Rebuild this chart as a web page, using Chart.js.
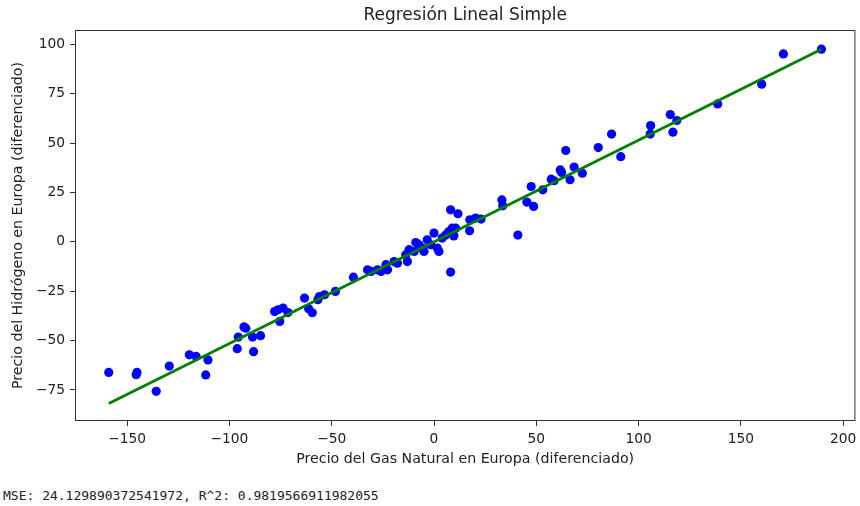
<!DOCTYPE html>
<html>
<head>
<meta charset="utf-8">
<script src="https://cdn.jsdelivr.net/npm/chart.js@4.4.1/dist/chart.umd.min.js"></script>
<style>
  body { margin: 0; background: #fff; }
  #wrap { position: relative; width: 860px; height: 480px; }
  #stats { position: absolute; left: 3px; top: 488px; font: 13px "DejaVu Sans Mono", monospace; line-height: 16px; color: #222; white-space: pre; }
</style>
</head>
<body>
<div id="wrap"><canvas id="chart" width="860" height="480"></canvas></div>
<div id="stats">MSE: 24.129890372541972, R^2: 0.9819566911982055</div>
<script>
// Precio del gas (x) vs precio del hidrógeno (y), diferenciados
const gasX = [-159.0, -145.6, -145.2, -135.8, -129.4, -119.6, -116.3, -111.6, -110.5, -96.2,
    -95.7, -92.9, -92.0, -88.7, -84.8, -88.2, -77.9, -76.3, -73.8, -71.4,
    -75.4, -63.3, -61.3, -59.5, -56.0, -56.8, -53.5, -48.2, -39.4, -32.5,
    -30.8, -27.6, -25.9, -23.5, -22.7, -19.5, -17.9, -13.8, -13.0, -12.2,
    -9.7, -8.9, -7.3, -5.7, -4.9, -3.3, -1.6, 0.0, 1.6, 2.4,
    4.0, 5.7, 7.3, 8.9, 10.6, 8.1, 8.1, 11.7, 17.5, 20.3,
    23.0, 17.4, 9.7, 33.2, 33.6, 41.0, 45.4, 48.7, 47.5, 53.2,
    57.3, 58.7, 61.7, 62.4, 64.4, 66.5, 68.5, 72.5, 80.3, 86.8,
    91.3, 105.9, 105.7, 115.5, 116.8, 118.7, 138.7, 160.2, 170.8, 189.4];
const hidroY = [-66.1, -67.3, -66.1, -75.7, -62.9, -57.2, -58.0, -67.4, -59.8, -54.1,
    -48.2, -43.1, -43.7, -48.2, -47.5, -55.6, -35.3, -34.4, -33.5, -35.8,
    -40.3, -28.5, -33.9, -35.9, -27.7, -29.3, -26.8, -25.1, -17.9, -14.2,
    -15.0, -14.2, -15.0, -11.6, -14.2, -10.0, -10.8, -6.6, -10.0, -4.0,
    -4.9, -0.4, -1.5, -3.2, -4.9, 1.0, -1.5, 4.4, -3.2, -4.9,
    1.9, 3.5, 5.2, 6.9, 6.9, -15.3, 16.2, 14.2, 11.1, 12.0,
    11.5, 5.6, 3.0, 21.2, 18.2, 3.4, 20.1, 17.9, 28.0, 26.3,
    31.7, 30.9, 36.4, 35.1, 46.2, 31.4, 37.8, 34.7, 47.7, 54.5,
    43.1, 58.8, 54.5, 64.4, 55.5, 61.4, 69.8, 79.8, 95.1, 97.5];

// recta ajustada (extremos)
const fitX = [-159.0, 189.4];
const fitY = [-81.8, 97.4];

const xTicks = [-150, -100, -50, 0, 50, 100, 150, 200];
const yTicks = [-75, -50, -25, 0, 25, 50, 75, 100];

const titulo = 'Regresión Lineal Simple';
const xLabel = 'Precio del Gas Natural en Europa (diferenciado)';
const yLabel = 'Precio del Hidrógeno en Europa (diferenciado)';

const FONT = 'DejaVu Sans';
const fmt = v => String(v).replace('-', '\u2212');

// titulo centrado sobre el area del grafico + marco completo
const framePlugin = {
    id: 'frame',
    afterDraw(chart) {
        const { ctx, chartArea: a } = chart;
        ctx.save();
        ctx.strokeStyle = '#333';
        ctx.lineWidth = 1;
        ctx.strokeRect(a.left + 0.5, a.top + 0.5, a.right - a.left - 1, a.bottom - a.top - 1);
        ctx.fillStyle = '#222';
        ctx.font = '17px "' + FONT + '"';
        ctx.textAlign = 'center';
        ctx.textBaseline = 'middle';
        ctx.fillText(titulo, (a.left + a.right) / 2, 16);
        ctx.restore();
    }
};

const ctx = document.getElementById('chart').getContext('2d');
new Chart(ctx, {
    type: 'scatter',
    data: {
        datasets: [
            {
                label: 'ajuste',
                data: fitX.map((x, i) => ({ x: x, y: fitY[i] })),
                showLine: true,
                borderColor: '#008000',
                borderWidth: 2.8,
                pointRadius: 0,
                order: 0
            },
            {
                label: 'datos',
                data: gasX.map((x, i) => ({ x: x, y: hidroY[i] })),
                backgroundColor: '#0000ff',
                borderWidth: 0,
                pointRadius: 4.6,
                order: 1
            }
        ]
    },
    plugins: [framePlugin],
    options: {
        responsive: false,
        animation: false,
        layout: { padding: { left: 0, right: 0, top: 30, bottom: 0 } },
        plugins: { legend: { display: false }, tooltip: { enabled: false } },
        scales: {
            x: {
                type: 'linear',
                min: -175.5,
                max: 206,
                afterBuildTicks: s => { s.ticks = xTicks.map(v => ({ value: v })); },
                afterFit: s => { s.height = 59; s.paddingLeft = 0; s.paddingRight = 0; },
                grid: { drawOnChartArea: false, drawTicks: true, tickLength: 5, color: '#333' },
                border: { display: false },
                ticks: { color: '#222', padding: 5, maxRotation: 0, font: { family: FONT, size: 13.8 }, callback: fmt },
                title: { display: true, text: xLabel, color: '#222', padding: { top: 12, bottom: 12 }, font: { family: FONT, size: 14.2 } }
            },
            y: {
                type: 'linear',
                min: -90.7,
                max: 107.2,
                afterBuildTicks: s => { s.ticks = yTicks.map(v => ({ value: v })); },
                afterFit: s => { s.width = 75; s.paddingTop = 0; s.paddingBottom = 0; },
                grid: { drawOnChartArea: false, drawTicks: true, tickLength: 5, color: '#333' },
                border: { display: false },
                ticks: { color: '#222', padding: 5, font: { family: FONT, size: 13.8 }, callback: fmt },
                title: { display: true, text: yLabel, color: '#222', padding: { top: 10, bottom: 0 }, font: { family: FONT, size: 14.2 } }
            }
        }
    }
});
</script>
</body>
</html>
